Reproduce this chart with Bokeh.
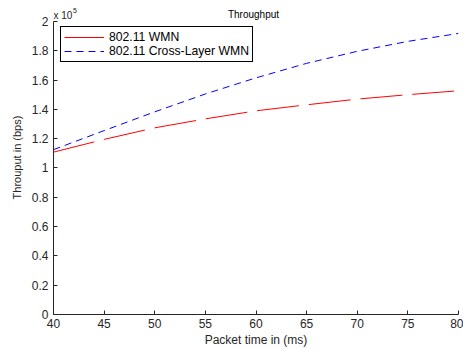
from bokeh.plotting import figure
from bokeh.models import Range1d, FixedTicker, Label, Legend, LegendItem
from bokeh.embed import file_html
from bokeh.resources import INLINE

# data
packet_time = [40, 45, 50, 55, 60, 65, 70, 75, 80]
wmn = [1.108e5, 1.195e5, 1.274e5, 1.335e5, 1.39e5, 1.431e5, 1.47e5, 1.50e5, 1.527e5]
cross_layer = [1.125e5, 1.255e5, 1.383e5, 1.505e5, 1.615e5, 1.714e5, 1.796e5, 1.864e5, 1.918e5]

x_ticks = [40, 45, 50, 55, 60, 65, 70, 75, 80]
y_ticks = [0, 0.2e5, 0.4e5, 0.6e5, 0.8e5, 1.0e5, 1.2e5, 1.4e5, 1.6e5, 1.8e5, 2.0e5]
y_tick_labels = ["0", "0.2", "0.4", "0.6", "0.8", "1", "1.2", "1.4", "1.6", "1.8", "2"]

FONT = "Liberation Sans"
AX = "#262626"

Y_MAX = 2e5
PX = Y_MAX / 294.0          # data units per pixel on y
XPX = 40.0 / 405.0          # data units per pixel on x
TOP_PAD = 21                # pixels above y=2e5 inside the frame

p = figure(width=463, height=349, output_backend="svg", toolbar_location=None,
           x_range=Range1d(40, 80), y_range=Range1d(0, Y_MAX + TOP_PAD * PX),
           min_border_left=53, min_border_right=5, min_border_top=0, min_border_bottom=34)

p.xgrid.visible = False
p.ygrid.visible = False
p.outline_line_color = None
p.background_fill_color = "white"
p.border_fill_color = "white"

for ax in (p.xaxis[0], p.yaxis[0]):
    ax.major_tick_in = 4
    ax.major_tick_out = 0
    ax.minor_tick_line_color = None
    ax.axis_line_color = AX
    ax.major_tick_line_color = AX
    ax.major_label_text_font = FONT
    ax.major_label_text_font_size = "12px"
    ax.major_label_text_color = AX
    ax.axis_label_text_font = FONT
    ax.axis_label_text_font_style = "normal"
    ax.axis_label_text_color = AX

p.yaxis.bounds = (0, Y_MAX)
p.xaxis.ticker = FixedTicker(ticks=x_ticks)
p.yaxis.ticker = FixedTicker(ticks=y_ticks)
p.yaxis.major_label_overrides = {t: l for t, l in zip(y_ticks, y_tick_labels)}
p.xaxis.major_label_standoff = 4
p.yaxis.major_label_standoff = 5
p.xaxis.axis_label = "Packet time in (ms)"
p.xaxis.axis_label_text_font_size = "12px"
p.xaxis.axis_label_standoff = 2
p.yaxis.axis_label = "Throuput in (bps)"
p.yaxis.axis_label_text_font_size = "11px"
p.yaxis.axis_label_standoff = 6

r_red = p.line(packet_time, wmn, line_color="#ff0000", line_width=1, line_dash="42 10")
r_blue = p.line(packet_time, cross_layer, line_color="#0000ff", line_width=1, line_dash="7 5")
# legend sample for the red series is drawn solid in the reference (single point: draws nothing)
r_red_key = p.line(packet_time[:1], wmn[:1], line_color="#ff0000", line_width=1)

legend = Legend(items=[LegendItem(label="802.11 WMN", renderers=[r_red_key]),
                       LegendItem(label="802.11 Cross-Layer WMN", renderers=[r_blue])],
                location=(7, 315 - 27 - 36), padding=3, spacing=0,
                glyph_width=40, glyph_height=14, label_height=14, label_standoff=5,
                label_text_font=FONT, label_text_font_size="12.2px", label_text_color="black",
                border_line_color="black", border_line_width=1, border_line_alpha=1,
                background_fill_color="white", background_fill_alpha=1)
p.add_layout(legend)

# title and exponent note, placed inside the (extended) frame above y = 2e5
p.add_layout(Label(x=60 - 2.5 * XPX, y=Y_MAX + 7 * PX, text="Throughput", text_font=FONT,
                   text_font_size="10px", text_color="black", text_align="center",
                   text_baseline="alphabetic"))
p.add_layout(Label(x=40, y=Y_MAX + 5.5 * PX, text="x 10", text_font=FONT,
                   text_font_size="10px", text_color=AX, text_baseline="alphabetic"))
p.add_layout(Label(x=40 + 19.5 * XPX, y=Y_MAX + 10.5 * PX, text="5", text_font=FONT,
                   text_font_size="7px", text_color=AX, text_baseline="alphabetic"))

open("out.html", "w").write(file_html(p, INLINE))
